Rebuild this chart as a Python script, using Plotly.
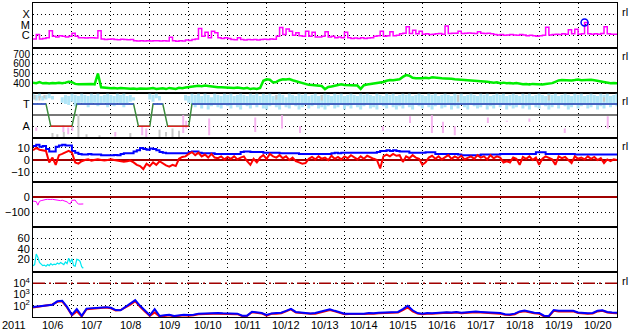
import pandas as pd
import plotly.graph_objects as go
from plotly.subplots import make_subplots

START = pd.Timestamp("2011-10-06 00:00")
END = pd.Timestamp("2011-10-21 00:00")
DAY_LABELS = ["10/6", "10/7", "10/8", "10/9", "10/10", "10/11", "10/12", "10/13",
              "10/14", "10/15", "10/16", "10/17", "10/18", "10/19", "10/20"]
YEAR_LABEL = "2011"
SIDE_LABEL = "rl"

# GOES X-ray flux, 2-hourly, in units of 1e-7 W/m2
xray_e7 = [
    4.5, 12, 4.5, 5, 6, 28, 8, 7, 9, 8,
    7, 8, 16, 8, 6, 6, 5.5, 6, 6, 5.5,
    28, 4.5, 4, 4.2, 4.5, 4, 3.8, 4.2, 4, 3.8,
    4, 3, 2.9, 3, 2.8, 3, 2.9, 3.1, 3, 2.9,
    3, 2.8, 6.5, 3, 2.7, 3, 2.9, 3.5, 3.2, 4,
    4.5, 45, 8, 20, 6, 25, 18, 6, 5, 6,
    5, 4, 3.8, 6, 4, 3.5, 4, 3.8, 4, 3.5,
    4, 4.2, 4, 4.5, 4.2, 8, 55, 12, 40, 25,
    10, 18, 9, 8, 25, 8, 20, 7, 7, 8,
    22, 7, 8, 6, 7, 6, 20, 6, 5, 5.5,
    5, 6, 5, 5.5, 6, 8, 9, 25, 8, 9,
    22, 9, 10, 14, 16, 68, 15, 30, 14, 25,
    13, 14, 12, 13, 14, 15, 13, 80, 15, 16,
    16, 25, 15, 16, 17, 16, 15, 22, 16, 15,
    16, 14, 12, 11, 12, 10, 11, 12, 11, 10,
    12, 11, 9, 10, 9, 8, 9, 10, 59, 11,
    12, 13, 12, 14, 13, 35, 14, 38, 13, 14,
    170, 14, 13, 14, 13, 15, 66, 14, 13, 13,
    13,
]

# Solar wind speed, 2-hourly, km/s
wind_speed = [
    405, 400, 410, 398, 402, 396, 400, 398, 404, 400,
    405, 414, 410, 392, 388, 390, 385, 390, 392, 388,
    500, 356, 350, 352, 346, 350, 345, 348, 344, 346,
    342, 345, 340, 344, 340, 342, 345, 348, 340, 345,
    346, 338, 350, 345, 340, 352, 348, 355, 360, 365,
    370, 372, 368, 374, 370, 365, 360, 356, 358, 355,
    356, 352, 350, 355, 350, 345, 352, 338, 345, 340,
    350, 425, 440, 435, 408, 412, 430, 440, 438, 442,
    430, 420, 405, 395, 385, 382, 380, 378, 376, 370,
    338, 360, 365, 375, 385, 388, 380, 378, 382, 378,
    375, 340, 378, 385, 390, 392, 395, 400, 412, 425,
    432, 430, 435, 440, 465, 484, 478, 455, 450, 448,
    452, 455, 450, 460, 455, 452, 450, 448, 450, 445,
    440, 438, 432, 430, 428, 425, 430, 425, 420, 422,
    415, 410, 405, 408, 400, 405, 398, 402, 396, 400,
    392, 388, 390, 385, 392, 388, 390, 386, 392, 395,
    400, 414, 428, 432, 430, 435, 428, 432, 438, 430,
    432, 428, 435, 430, 425, 420, 410, 405, 398, 402,
    400,
]

# IMF |B| (Bt) and Bz, 2-hourly, nT
imf_bt = [
    11.5, 12.5, 11, 11.5, 9, 7, 7, 11, 12, 12.5,
    12, 12, 7.5, 6, 5, 4.5, 4.5, 5, 4.5, 4.5,
    4.5, 4, 4, 4, 4, 4.2, 4, 5, 5.5, 5.5,
    5.5, 7, 8, 10, 9, 8.5, 9.5, 9, 8, 6.5,
    6, 5.5, 5.5, 5.5, 5.5, 5.5, 5.5, 5.5, 6.5, 7,
    7, 6, 5.5, 5.5, 5.5, 5.5, 5, 5, 5, 5,
    5, 5, 5, 5, 6.5, 7, 7, 6.5, 6.5, 6.5,
    6.5, 6, 6, 6, 6, 6, 5.5, 5.5, 5.5, 5.5,
    5.5, 5.5, 5, 5, 5, 5, 5, 5, 5, 5,
    5, 5, 5.5, 6, 5.5, 6, 6, 6, 6, 6,
    6, 6, 6, 6, 6, 6, 6.5, 7.5, 7.5, 8,
    7.5, 8, 7.5, 7, 7, 7, 6, 6, 6, 6,
    6, 6.3, 6.3, 6.3, 5, 5, 5, 5, 5, 5,
    5, 4.5, 4, 4, 4, 4, 4, 4, 4.5, 4.5,
    4.5, 4.5, 4.5, 4.5, 5, 5, 5, 5, 5, 5,
    5, 5, 5, 5, 5, 6.3, 6.3, 6.3, 5, 5,
    5, 5, 5, 5, 5, 5, 5, 4.6, 4.6, 4.6,
    4.6, 4.6, 4.6, 4.6, 4.6, 4.5, 4.5, 4.5, 4.5, 4.5,
    4.5,
]
imf_bz = [
    8, 10, 8.5, 8, 7.5, -2, 2, -4, 4, 5,
    6, 7.5, 6, -2, -3, -1, 0, 0.5, -0.5, 0,
    0.5, 0, -0.5, 0, 0.5, 0, -0.5, -1, -1.5, -1,
    -0.5, -2, -4, -5, -7.5, -3, -5, -2, -4, -1,
    -3, -4.5, -5.5, -4, -5, 1, 2.5, 3, 5, 6.5,
    4, 6, 3, 4.5, 2, 5, 2, 1.5, 3, 0.5,
    2.5, 1, 3, 0.5, 2, 3, -1, -4, 1, -2,
    2, 4, 1, 5, 3, 2, 4, 1.5, 3, 0,
    2, -1, -2, -3, -2.5, 1, 2.5, 0.5, 3, 1,
    2, 0, 3.5, 1, 2.5, 0.5, 3, 1.5, 4, 2,
    0.5, 3, 1, 3.5, 2, 1, 0, -7, 3, 4.5,
    3, 5, 3.5, 4, -1.6, 3, 1.5, 4, 2, 1,
    -4, -2, 2, 3.5, 1, 3, 0.5, 2.5, 4, 1,
    3, 1.5, 3.5, 0.5, 2, 3, 1, 4, 2, 3,
    0.5, 4, 1.5, 3, 2, -2, -1, -2, 2, 1,
    -4, 2.5, 1, 3, 0, 2, -4, 1, 3, 2,
    0.5, -4, 3, 1.5, 2.5, 0, -2.5, 3, 1, 2,
    0.5, 3, 1, 2.5, 0, 1.5, -2.5, 0.5, -1, 0.5,
    0,
]

# IMF direction on the toward side: 2-hourly max / min (T=1, A=-1 units)
phi_hi = [
    1.9, 1.8, 1.9, 1.7, 1.8, 1.9, 1.7, None, None, 1.6,
    1.8, 1.7, 1.9, 1.8, 1.7, 1.9, 1.8, 1.7, 1.9, 1.8,
    1.9, 1.7, 1.8, 1.9, 1.8, 1.7, 1.9, 1.8, 1.9, 1.7,
    1.8, 1.6, None, None, None, None, 1.9, 1.8, 1.9, 1.7,
    None, None, None, None, None, None, None, 1.8, 1.7, 1.9,
    1.8, 1.9, 1.7, 1.9, 1.8, 1.6, 1.9, 1.8, 1.7, 1.9,
    1.8, 1.9, 1.7, 1.8, 1.9, 1.8, 1.7, 1.9, 1.8, 1.9,
    1.7, 1.9, 1.8, 1.9, 1.7, 1.8, 1.9, 1.8, 1.6, 1.9,
    1.8, 1.7, 1.9, 1.8, 1.9, 1.7, 1.8, 1.9, 1.7, 1.8,
    1.9, 1.8, 1.7, 1.9, 1.8, 1.9, 1.7, 1.8, 1.9, 1.8,
    1.7, 1.9, 1.8, 1.9, 1.8, 1.7, 1.9, 1.8, 1.7, 1.9,
    1.8, 1.9, 1.7, 1.8, 1.9, 1.8, 1.9, 1.7, 1.8, 1.9,
    1.8, 1.7, 1.9, 1.8, 1.9, 1.7, 1.8, 1.9, 1.8, 1.7,
    1.9, 1.8, 1.9, 1.7, 1.8, 1.9, 1.8, 1.7, 1.9, 1.8,
    1.9, 1.7, 1.8, 1.9, 1.8, 1.9, 1.7, 1.8, 1.9, 1.8,
    1.7, 1.9, 1.8, 1.9, 1.7, 1.8, 1.9, 1.8, 1.7, 1.9,
    1.8, 1.9, 1.7, 1.8, 1.9, 1.8, 1.7, 1.9, 1.8, 1.9,
    1.7, 1.8, 1.9, 1.8, 1.7, 1.9, 1.8, 1.9, 1.7, 1.8,
    1.9,
]
phi_lo = [
    1.4, 1.3, 1.5, 1.3, 1.4, 1.5, 1.4, None, None, 1.1,
    1.0, 0.9, 1.2, 0.8, 1.0, 1.1, 0.9, 0.7, 1.0, 1.1,
    0.8, 0.9, 1.1, 0.7, 1.0, 0.8, 1.1, 0.9, 0.7, 1.0,
    1.2, 1.3, None, None, None, None, 1.4, 1.2, 1.5, 1.3,
    None, None, None, None, None, None, None, 1.3, 1.1, 0.9,
    0.7, 1.0, 0.6, 0.9, 0.5, 0.8, 1.0, 0.7, 0.6, 0.9,
    0.8, 0.6, 1.0, 0.7, 0.5, 0.9, 0.8, 0.6, 1.0, 0.7,
    0.9, 0.6, 0.5, 0.8, 1.0, 0.7, 0.5, 0.9, 0.7, 0.6,
    1.0, 0.8, 0.5, 0.7, 0.9, 0.6, 0.8, 1.0, 0.6, 0.7,
    0.5, 0.8, 0.9, 0.6, 0.7, 1.0, 0.5, 0.8, 0.6, 0.9,
    0.7, 0.5, 0.8, 1.0, 0.6, 0.7, 0.5, 0.9, 0.8, 0.6,
    0.9, 0.7, 0.5, 0.8, 0.6, 1.0, 0.7, 0.5, 0.9, 0.8,
    0.6, 0.9, 0.7, 0.5, 0.8, 1.0, 0.6, 0.7, 0.9, 0.5,
    0.8, 0.6, 0.9, 0.7, 0.5, 1.0, 0.8, 0.6, 0.7, 0.9,
    0.5, 0.8, 0.6, 1.0, 0.7, 0.9, 0.5, 0.8, 0.6, 0.7,
    0.9, 0.6, 0.8, 0.5, 1.0, 0.7, 0.6, 0.9, 0.8, 0.5,
    0.7, 0.9, 0.6, 1.0, 0.8, 0.5, 0.7, 0.9, 0.6, 0.8,
    1.0, 0.6, 0.7, 0.9, 0.5, 0.8, 0.6, 1.0, 0.7, 0.9,
    0.8,
]

# Sector polarity line (hours from start, T=1 / A=-1)
sector_hours = [0, 8, 11, 24, 27, 62, 65, 72, 74, 80, 83, 96, 98, 360]
sector_vals = [1, 1, -1, -1, 1, 1, -1, -1, 1, 1, -1, -1, 1, 1]

# Away-side samples (hour, top, bottom)
pink_hours = [2, 18.7, 21.7, 24.2, 50.7, 67.3, 69.8, 92.6, 94.4, 108.6, 137, 153.5,
              164.6, 215.7, 232.4, 245.9, 252.7, 260, 280.4, 292.1, 306, 327.8, 354.3]
pink_top = [-1.1, -0.9, -1.1, -1.0, -1.5, -1.0, -1.2, 0.0, -0.5, -0.3, -0.2, 0.0,
            -1.0, -1.0, -0.1, 0.0, -0.6, -1.0, -0.2, -0.5, -0.3, -1.2, -0.1]
pink_bot = [-1.4, -1.5, -1.7, -1.4, -1.9, -1.8, -2.0, -1.6, -1.2, -1.8, -1.5, -1.2,
            -1.6, -1.4, -0.7, -1.6, -1.6, -1.8, -0.7, -0.6, -0.6, -1.6, -1.2]
# Uncertain samples (hour, top, bottom)
gray_hours = [1, 4, 7, 12, 15, 19, 28, 33, 41, 60, 78, 82, 86, 90, 150, 178, 262, 318, 352]
gray_top = [1.8, 1.7, 1.8, -1.6, -1.7, -1.5, 0.1, -1.7, -1.8, -1.6, -1.3, -1.5, -1.2, -1.4,
            1.8, 1.8, 1.8, 1.8, 1.6]
gray_bot = [1.4, 1.3, 1.5, -2.0, -2.0, -2.0, -2.0, -2.0, -2.0, -2.0, -2.0, -1.9, -2.0, -2.0,
            1.4, 1.3, 1.2, 1.3, 1.2]

# Dst index, hourly, nT
dst_hourly = [
    -25, -24, -28, -52, -26, -22, -18, -15, -14, -13,
    -15, -14, -13, -15, -16, -18, -20, -22, -19, -21,
    -24, -30, -40, -44, -20, -17, -18, -35, -44, -45,
    -44, -44,
]
# Cyan panel series, hourly
cyan_hourly = [
    8, 10, 30, 24, 14, 10, 8, 9, 7, 10,
    8, 12, 9, 11, 10, 13, 11, 14, 12, 10,
    15, 12, 22, 14, 21, 8, 7, 20, 19, 16,
    6, 3,
]

# Proton-like fluxes, 3-hourly, log10 values
proton_blue_log = [
    1.9, 1.95, 2.0, 2.08, 2.1, 2.4, 2.45, 1.9, 1.2, 1.7,
    1.1, 1.75, 1.78, 1.85, 1.9, 1.88, 1.82, 1.62, 1.6, 1.9,
    2.15, 2.5, 2.0, 1.6, 1.15, 1.7, 1.1, 1.15, 1.2, 1.1,
    1.15, 1.2, 1.18, 1.2, 1.3, 1.32, 1.28, 1.33, 1.35, 1.33,
    1.3, 1.33, 1.3, 1.12, 1.12, 1.47, 1.4, 1.36, 1.18, 1.32,
    1.35, 1.38, 1.55, 1.72, 1.45, 1.4, 1.33, 1.32, 1.35, 1.45,
    1.6, 1.69, 1.55, 1.45, 1.3, 1.3, 1.28, 1.32, 1.3, 1.35,
    1.33, 1.38, 1.4, 1.42, 1.4, 1.45, 1.7, 2.0, 1.6, 1.35,
    1.3, 1.35, 1.33, 1.38, 1.4, 1.42, 1.4, 1.45, 1.38, 1.42,
    1.45, 1.48, 1.45, 1.42, 1.4, 1.38, 1.35, 1.25, 1.22, 1.3,
    1.5, 1.58, 1.45, 1.38, 1.36, 1.12, 1.1, 1.62, 1.55, 1.55,
    1.52, 1.55, 1.4, 1.35, 1.33, 1.36, 1.55, 1.6, 1.45, 1.4,
    1.38,
]
proton_red_log = [
    1.85, 1.92, 1.96, 2.05, 2.12, 2.35, 2.4, 1.85, 1.15, 1.5,
    1.05, 1.7, 1.75, 1.8, 1.86, 1.85, 1.78, 1.58, 1.62, 1.85,
    2.1, 2.42, 1.9, 1.5, 1.1, 1.4, 1.05, 1.1, 1.15, 1.05,
    1.1, 1.15, 1.12, 1.15, 1.25, 1.28, 1.25, 1.3, 1.3, 1.28,
    1.25, 1.28, 1.25, 1.08, 1.1, 1.42, 1.35, 1.32, 1.12, 1.28,
    1.3, 1.33, 1.5, 1.68, 1.4, 1.35, 1.28, 1.28, 1.3, 1.4,
    1.55, 1.63, 1.5, 1.4, 1.25, 1.26, 1.24, 1.28, 1.26, 1.3,
    1.28, 1.33, 1.36, 1.38, 1.36, 1.4, 1.62, 1.85, 1.5, 1.3,
    1.25, 1.3, 1.28, 1.33, 1.36, 1.38, 1.35, 1.4, 1.33, 1.38,
    1.4, 1.43, 1.4, 1.38, 1.35, 1.33, 1.3, 1.2, 1.18, 1.25,
    1.45, 1.52, 1.4, 1.33, 1.3, 1.06, 1.05, 1.55, 1.5, 1.5,
    1.47, 1.5, 1.36, 1.3, 1.28, 1.3, 1.5, 1.55, 1.4, 1.35,
    1.33,
]
PROTON_THRESHOLD = 1e4

# ---------------------------------------------------------------------------
FONT = "Liberation Sans, Arial, sans-serif"
MAGENTA = "#ff00ff"
GREEN = "#00ee00"
BLUE = "#0000ff"
RED = "#ff0000"
CYAN = "#00e8f0"
LIGHTBLUE = "#b0e6f8"
PINK = "#f6b4f0"
GRAY = "#c8c8c8"
DARKRED = "#a00000"
DOTS = "1px,3px"
FS = 11

t2 = pd.date_range(START, periods=len(xray_e7), freq="2h")
t2s = pd.date_range(START, periods=len(wind_speed), freq="2h")
t2b = pd.date_range(START, periods=len(imf_bt), freq="2h")
t2z = pd.date_range(START, periods=len(imf_bz), freq="2h")
t2p = pd.date_range(START, periods=len(phi_hi), freq="2h")
t1d = pd.date_range(START, periods=len(dst_hourly), freq="h")
t1c = pd.date_range(START, periods=len(cyan_hourly), freq="h")
t3b = pd.date_range(START, periods=len(proton_blue_log), freq="3h")
t3r = pd.date_range(START, periods=len(proton_red_log), freq="3h")


def hrs(h):
    return START + pd.Timedelta(hours=h)


def segments(times, tops, bots):
    xs, ys = [], []
    for t, a, b in zip(times, tops, bots):
        if a is None or b is None:
            continue
        xs += [t, t, None]
        ys += [a, b, None]
    return xs, ys


fig = make_subplots(rows=7, cols=1, shared_xaxes=True, vertical_spacing=0)

# Row 1: X-ray
xray = [v * 1e-7 for v in xray_e7]
fig.add_trace(go.Scatter(x=t2, y=xray, mode="lines", line=dict(color=MAGENTA, width=1.5, shape="hv")), 1, 1)
imax = max(range(len(xray)), key=lambda k: xray[k])
fig.add_trace(go.Scatter(x=[t2[imax]], y=[xray[imax]], mode="markers",
                         marker=dict(symbol="circle-open", size=7, color=BLUE, line=dict(width=1.5))), 1, 1)

# Row 2: solar wind speed
fig.add_trace(go.Scatter(x=t2s, y=wind_speed, mode="lines", line=dict(color=GREEN, width=2.5)), 2, 1)

# Row 3: sector
fx, fy = segments(t2p, phi_hi, phi_lo)
fig.add_trace(go.Scatter(x=fx, y=fy, mode="lines", line=dict(color=LIGHTBLUE, width=3)), 3, 1)
gx, gy = segments([hrs(h) for h in gray_hours], gray_top, gray_bot)
fig.add_trace(go.Scatter(x=gx, y=gy, mode="lines", line=dict(color=GRAY, width=2)), 3, 1)
px_, py_ = segments([hrs(h) for h in pink_hours], pink_top, pink_bot)
fig.add_trace(go.Scatter(x=px_, y=py_, mode="lines", line=dict(color=PINK, width=2)), 3, 1)
sx = [hrs(h) for h in sector_hours]
fig.add_trace(go.Scatter(x=sx, y=sector_vals, mode="lines", line=dict(color="#3a8a3a", width=1.5)), 3, 1)
fig.add_trace(go.Scatter(x=sx, y=[v if v == 1 else None for v in sector_vals], mode="lines",
                         line=dict(color="#4050e0", width=1.5)), 3, 1)
fig.add_trace(go.Scatter(x=sx, y=[v if v == -1 else None for v in sector_vals], mode="lines",
                         line=dict(color="#e02020", width=1.5)), 3, 1)

# Row 4: IMF
fig.add_trace(go.Scatter(x=t2b, y=imf_bt, mode="lines", line=dict(color=BLUE, width=2, shape="hv")), 4, 1)
fig.add_trace(go.Scatter(x=t2z, y=imf_bz, mode="lines", line=dict(color=RED, width=2)), 4, 1)

# Row 5: Dst
fig.add_trace(go.Scatter(x=t1d, y=dst_hourly, mode="lines", line=dict(color=MAGENTA, width=1)), 5, 1)

# Row 6: cyan series
fig.add_trace(go.Scatter(x=t1c, y=cyan_hourly, mode="lines", line=dict(color=CYAN, width=1.2)), 6, 1)

# Row 7: protons
fig.add_trace(go.Scatter(x=[START, END], y=[PROTON_THRESHOLD, PROTON_THRESHOLD], mode="lines",
                         line=dict(color=DARKRED, width=1.5, dash="12px,4px,2px,4px")), 7, 1)
fig.add_trace(go.Scatter(x=t3r, y=[10 ** v for v in proton_red_log], mode="lines",
                         line=dict(color=RED, width=2)), 7, 1)
fig.add_trace(go.Scatter(x=t3b, y=[10 ** v for v in proton_blue_log], mode="lines",
                         line=dict(color=BLUE, width=2)), 7, 1)

noon = [START + pd.Timedelta(days=d, hours=12) for d in range(len(DAY_LABELS))]
midnights = [START + pd.Timedelta(days=d) for d in range(1, len(DAY_LABELS))]

for r in range(1, 8):
    fig.update_xaxes(
        row=r, col=1, range=[START, END], showline=True, mirror=True, linecolor="black", linewidth=1,
        ticks="", tickmode="array", tickvals=midnights, showticklabels=False,
        showgrid=True, gridcolor="black", gridwidth=1, griddash=DOTS, zeroline=False,
    )

yconf = {
    1: dict(type="log", range=[-7.2, -2.9], tickvals=[1e-6, 1e-5, 1e-4], ticktext=["C", "M", "X"], zeroline=False),
    2: dict(range=[300, 768], tickvals=[400, 500, 600, 700], zeroline=False,
            tickfont=dict(family=FONT, size=10, color="black")),
    3: dict(range=[-2, 2], tickvals=[-1, 1], ticktext=["A", "T"], zeroline=True, zerolinecolor="#777777",
            zerolinewidth=1.5),
    4: dict(range=[-18.5, 18.5], tickvals=[-10, 0, 10], zeroline=True, zerolinecolor=DARKRED, zerolinewidth=1.5),
    5: dict(range=[-200, 100], tickvals=[-100, 0], zeroline=True, zerolinecolor=DARKRED, zerolinewidth=1.5),
    6: dict(range=[-4.4, 81], tickvals=[20, 40, 60], zeroline=False),
    7: dict(type="log", range=[1, 5], tickvals=[1e2, 1e3, 1e4],
            ticktext=["10<sup>2</sup>", "10<sup>3</sup>", "10<sup>4</sup>"], zeroline=False),
}
for r, c in yconf.items():
    opts = dict(showline=True, mirror=True, linecolor="black", linewidth=1,
                ticks="", tickmode="array", showgrid=True, gridcolor="black", gridwidth=1,
                griddash=DOTS, tickfont=dict(family=FONT, size=FS, color="black"))
    opts.update(c)
    fig.update_yaxes(row=r, col=1, **opts)

PLOT_W = 633 - 33 - 16
PLOT_H = 334 - 3 - 17
LABEL_Y = -8 / PLOT_H
annotations = [dict(text=YEAR_LABEL, xref="paper", yref="paper", x=-33 / PLOT_W, y=LABEL_Y,
                    xanchor="left", yanchor="middle", showarrow=False,
                    font=dict(family=FONT, size=FS, color="black"))]
for t, lab in zip(noon, DAY_LABELS):
    annotations.append(dict(text=lab, xref="x7", yref="paper", x=t, y=LABEL_Y, xanchor="center",
                            yanchor="middle", showarrow=False, font=dict(family=FONT, size=FS, color="black")))
for i in [0, 1, 2, 3, 6]:
    annotations.append(dict(text=SIDE_LABEL, xref="paper", yref="paper", x=1 + 3 / PLOT_W,
                            y=1 - i / 7 - 8.5 / PLOT_H, xanchor="left", yanchor="middle", showarrow=False,
                            font=dict(family=FONT, size=FS, color="black")))

fig.update_layout(
    width=633, height=334, margin=dict(l=33, r=16, t=3, b=17),
    paper_bgcolor="white", plot_bgcolor="white", showlegend=False,
    annotations=annotations, font=dict(family=FONT, size=FS, color="black"),
)

fig.write_html("out.html")
